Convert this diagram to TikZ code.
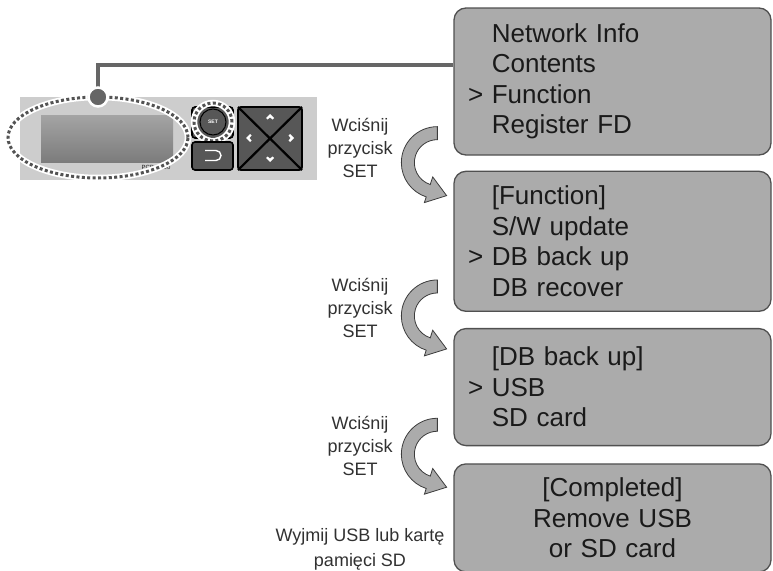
\documentclass[tikz,border=0pt]{standalone}
\usepackage{fontspec}
\setmainfont{Liberation Sans}
\usetikzlibrary{calc,positioning}
\definecolor{scr}{HTML}{ABABAB}
\definecolor{rim}{HTML}{505050}
\definecolor{ink}{HTML}{1A1A1A}
\definecolor{wiregray}{HTML}{666666}
\definecolor{panelgray}{HTML}{CDCDCD}
\definecolor{lcdtop}{HTML}{A4A4A4}
\definecolor{lcdbot}{HTML}{7C7C7C}
\definecolor{key}{HTML}{575757}
\newcommand{\ind}{\hphantom{>\ }}
\newcommand{\cur}{>\ }
% curved block arrow, #1 = centre of the bend
\newcommand{\turn}[1]{%
  \filldraw[turnarrow] ($(#1)+(90:36pt)$) arc[start angle=90,end angle=252,radius=36pt]
    -- ($(#1)+(252:42pt)$) -- ($(#1)+(252:28.5pt)+(342:19pt)$)
    -- ($(#1)+(252:15pt)$) -- ($(#1)+(252:23pt)$)
    arc[start angle=252,end angle=90,radius=23pt] -- cycle;}
\tikzset{
  menu/.style={draw=rim,line width=1.3pt,fill=scr,rounded corners=12pt,minimum width=317pt,
    text width=289pt,align=left,inner sep=0pt,text=ink,font=\fontsize{26}{30.5}\selectfont},
  hint/.style={align=center,text=ink!90,font=\fontsize{18}{23}\selectfont},
  turnarrow/.style={fill=scr,draw=ink!85,line width=0.8pt,line join=miter},
  halo/.style={draw=white,line width=6.5pt},
  dots/.style={draw=ink!75,line width=3pt,dash pattern=on 3pt off 2.4pt},
  keycap/.style={fill=key,draw=black,line width=1.6pt,rounded corners=3pt},
  wire/.style={draw=wiregray,line width=4.8pt},
}
\begin{document}
\begin{tikzpicture}[x=1pt,y=1pt]
\useasboundingbox (0,0) rectangle (773,-570);

% menu screens
\node[menu,minimum height=147pt] (m1) at (612.5,-81.5)
  {\ind Network Info\\\ind Contents\\\cur Function\\\ind Register FD};
\node[menu,minimum height=140pt,below=15pt of m1] (m2)
  {\ind [Function]\\\ind S/W update\\\cur DB back up\\\ind DB recover\\[-9pt]};
\node[menu,minimum height=117pt,below=16pt of m2] (m3)
  {\ind [DB back up]\\\cur USB\\\ind SD card};
\node[menu,minimum height=108pt,below=17pt of m3,align=center] (m4)
  {[Completed]\\Remove USB\\or SD card};

% bends between screens
\coordinate (t1) at ([shift={(-16pt,-7pt)}]m1.south west);
\coordinate (t2) at ([shift={(-16pt,-4pt)}]m2.south west);
\coordinate (t3) at ([shift={(-16pt,-8pt)}]m3.south west);
\turn{t1} \turn{t2} \turn{t3}

\node[hint] (h1) at (360,-147.5) {Wciśnij\\przycisk\\SET};
\node[hint] (h2) at (360,-308) {Wciśnij\\przycisk\\SET};
\node[hint] (h3) at (360,-446) {Wciśnij\\przycisk\\SET};
\node[hint,font=\fontsize{18}{25}\selectfont] (h4) at (360,-549) {Wyjmij USB lub kartę\\pamięci SD};

% front panel
\fill[panelgray] (20,-97) rectangle (317,-180);
\shade[top color=lcdtop,bottom color=lcdbot] (41,-115) rectangle (173,-162);
\node[text=ink,font=\fontsize{6}{6}\selectfont] (model) at (156,-167) {PCP-C100};
\draw[halo] (98,-137.5) ellipse[x radius=90pt,y radius=40.5pt];
\draw[dots] (98,-137.5) ellipse[x radius=90pt,y radius=40.5pt];

% SET key
\filldraw[keycap] (192,-107) rectangle (233,-138);
\filldraw[fill=key,draw=black,line width=1pt] (213,-122) circle[radius=13pt];
\node[text=white,font=\fontsize{5}{5}\selectfont\bfseries] (setkey) at (213,-122) {SET};
\draw[halo] (213,-122) circle[radius=19pt];
\draw[dots] (213,-122) circle[radius=19pt];

% back key
\filldraw[keycap] (192,-142) rectangle (233,-170);
\draw[white,line width=1.4pt] (205,-150.5) -- (216,-150.5)
  arc[start angle=90,end angle=-90,radius=5pt] -- (205,-160.5);

% arrow pad
\filldraw[keycap,line width=1.8pt] (238,-107) rectangle (302,-170);
\draw[black,line width=2.2pt] (238,-107) -- (302,-170) (302,-107) -- (238,-170);
\foreach \x/\y/\r in {270/-117/0,270/-159/180,249/-138/90,291/-138/-90}
  \fill[white,shift={(\x,\y)},rotate=\r] (-4,-1) -- (0,3) -- (4,-1) -- (2.5,-2.5) -- (0,-0.5) -- (-2.5,-2.5) -- cycle;

% pointer to the first screen
\coordinate (pin) at (98,-97);
\draw[wire] (pin) |- ([yshift=16.5pt]m1.west);
\node[circle,fill=wiregray,draw=white,line width=2.5pt,minimum size=19pt,inner sep=0pt] (dot) at (pin) {};
\end{tikzpicture}
\end{document}
